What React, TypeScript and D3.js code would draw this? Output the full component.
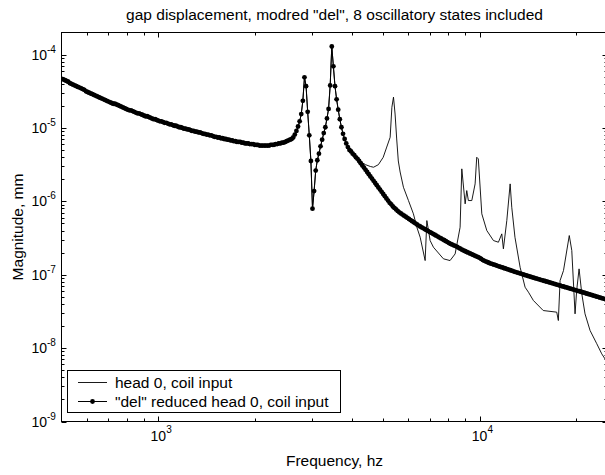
import React from "react";
import * as d3 from "d3";

const W = 605;
const H = 475;
const PLOT = { left: 61.5, right: 607.5, top: 32.5, bottom: 421.5 };

const xDomain: [number, number] = [500, 25000];
const yDomain: [number, number] = [1e-9, 2e-4];
const xMajorExponents = [3, 4];
const yMajorExponents = [-9, -8, -7, -6, -5, -4];

const titleText = 'gap displacement, modred "del", 8 oscillatory states included';
const xLabelText = "Frequency, hz";
const yLabelText = "Magnitude, mm";
const legendLabels = ["head 0, coil input", '"del" reduced head 0, coil input'];

// reduced model: log-spaced frequency grid (log10 Hz), log10 magnitude
const reducedLogHz = d3.range(341).map((i) => 2.7 + 0.005 * i);
const reducedLogMag = [
  -4.33,-4.34,-4.35,-4.36,-4.37,-4.39,-4.40,-4.41,-4.42,-4.43,-4.44,-4.45,-4.46,-4.47,-4.48,-4.50,-4.51,-4.52,-4.53,-4.54,
  -4.55,-4.56,-4.57,-4.58,-4.59,-4.60,-4.61,-4.62,-4.63,-4.64,-4.65,-4.66,-4.67,-4.67,-4.68,-4.69,-4.70,-4.71,-4.72,-4.73,
  -4.74,-4.75,-4.76,-4.76,-4.77,-4.78,-4.79,-4.80,-4.80,-4.81,-4.82,-4.83,-4.84,-4.84,-4.85,-4.86,-4.87,-4.88,-4.88,-4.89,
  -4.90,-4.91,-4.91,-4.92,-4.93,-4.93,-4.94,-4.95,-4.95,-4.96,-4.97,-4.97,-4.98,-4.99,-4.99,-5.00,-5.01,-5.01,-5.02,-5.02,
  -5.03,-5.04,-5.04,-5.05,-5.05,-5.06,-5.06,-5.07,-5.08,-5.08,-5.09,-5.09,-5.10,-5.10,-5.11,-5.12,-5.12,-5.13,-5.13,-5.14,
  -5.14,-5.15,-5.15,-5.16,-5.16,-5.17,-5.17,-5.18,-5.18,-5.19,-5.19,-5.19,-5.20,-5.20,-5.21,-5.21,-5.21,-5.22,-5.22,-5.22,
  -5.23,-5.23,-5.23,-5.24,-5.24,-5.24,-5.24,-5.24,-5.24,-5.24,-5.23,-5.23,-5.23,-5.22,-5.22,-5.21,-5.21,-5.20,-5.20,-5.19,
  -5.18,-5.17,-5.16,-5.15,-5.13,-5.09,-5.04,-4.98,-4.91,-4.81,-4.63,-4.31,-4.43,-4.78,-5.10,-5.45,-6.10,-5.86,-5.58,-5.44,
  -5.35,-5.25,-5.16,-5.07,-4.99,-4.87,-4.74,-4.42,-3.89,-4.16,-4.43,-4.61,-4.75,-4.88,-4.99,-5.08,-5.15,-5.21,-5.26,-5.30,
  -5.32,-5.35,-5.37,-5.40,-5.42,-5.45,-5.48,-5.51,-5.54,-5.57,-5.60,-5.63,-5.66,-5.69,-5.72,-5.75,-5.78,-5.81,-5.84,-5.87,
  -5.90,-5.93,-5.96,-5.99,-6.02,-6.04,-6.07,-6.09,-6.11,-6.13,-6.15,-6.165,-6.18,-6.195,-6.21,-6.225,-6.24,-6.255,-6.27,-6.285,
  -6.30,-6.315,-6.33,-6.343,-6.355,-6.368,-6.38,-6.393,-6.405,-6.418,-6.43,-6.443,-6.455,-6.468,-6.48,-6.493,-6.505,-6.518,-6.53,-6.543,
  -6.555,-6.568,-6.58,-6.59,-6.60,-6.61,-6.62,-6.633,-6.645,-6.658,-6.67,-6.68,-6.69,-6.70,-6.71,-6.72,-6.73,-6.74,-6.75,-6.76,
  -6.77,-6.785,-6.80,-6.81,-6.82,-6.83,-6.84,-6.848,-6.855,-6.863,-6.87,-6.878,-6.885,-6.893,-6.90,-6.908,-6.915,-6.923,-6.93,-6.938,
  -6.945,-6.953,-6.96,-6.967,-6.974,-6.981,-6.988,-6.995,-7.002,-7.009,-7.016,-7.023,-7.03,-7.037,-7.043,-7.05,-7.056,-7.063,-7.069,-7.076,
  -7.082,-7.089,-7.095,-7.102,-7.108,-7.115,-7.121,-7.128,-7.134,-7.141,-7.147,-7.154,-7.16,-7.167,-7.173,-7.18,-7.186,-7.193,-7.199,-7.206,
  -7.212,-7.219,-7.225,-7.232,-7.239,-7.245,-7.252,-7.259,-7.265,-7.272,-7.279,-7.285,-7.292,-7.299,-7.305,-7.312,-7.319,-7.325,-7.332,-7.339,
  -7.345,
];

// full model: identical to the reduced model below ~4 kHz, then its own points (log10 Hz, log10 mag)
const fullSplitLogHz = 3.605;
const fullHiLogHz = [
  3.61, 3.62, 3.63, 3.645, 3.66, 3.67, 3.685, 3.70, 3.711, 3.7216,
  3.727, 3.732, 3.737, 3.742, 3.747, 3.7527, 3.763, 3.7786, 3.794, 3.8047,
  3.815, 3.8305, 3.8358, 3.846, 3.8563, 3.8874, 3.908, 3.9238, 3.9393, 3.9446,
  3.955, 3.96, 3.965, 3.9757, 3.986, 3.991, 3.996, 4.0068, 4.0224, 4.043,
  4.0585, 4.069, 4.074, 4.0846, 4.095, 4.1, 4.11, 4.126, 4.1415, 4.152,
  4.1673, 4.198, 4.24, 4.245, 4.2504, 4.261, 4.279, 4.2868, 4.297, 4.302,
  4.3095, 4.318, 4.328, 4.3437, 4.3645, 4.38, 4.39, 4.4,
];
const fullHiLogMag = [
  -5.37, -5.42, -5.46, -5.5, -5.525, -5.535, -5.5, -5.4, -5.26, -5.127,
  -4.718, -4.58, -4.81, -5.15, -5.45, -5.6, -5.808, -5.989, -6.17, -6.353,
  -6.489, -6.807, -6.262, -6.534, -6.625, -6.783, -6.807, -6.716, -6.353, -5.557,
  -6.034, -5.853, -5.989, -5.989, -5.762, -5.399, -5.421, -6.17, -6.398, -6.534,
  -6.557, -6.443, -6.647, -6.262, -5.762, -6.08, -6.489, -6.898, -7.17, -7.238,
  -7.351, -7.488, -7.51, -7.624, -7.079, -6.943, -6.466, -6.67, -7.533, -7.215,
  -6.92, -7.26, -7.533, -7.76, -7.94, -8.078, -8.146, -8.21,
];

const FONT = "'Liberation Sans', Arial, Helvetica, sans-serif";

export default function App() {
  const x = d3.scaleLog().domain(xDomain).range([PLOT.left, PLOT.right]);
  const y = d3.scaleLog().domain(yDomain).range([PLOT.bottom, PLOT.top]);

  const n = Math.min(reducedLogHz.length, reducedLogMag.length);
  const reduced: [number, number][] = d3.range(n).map((i) => [10 ** reducedLogHz[i], 10 ** reducedLogMag[i]]);
  const full: [number, number][] = [
    ...reduced.filter((d) => Math.log10(d[0]) <= fullSplitLogHz + 1e-9),
    ...fullHiLogHz.map((u, i) => [10 ** u, 10 ** fullHiLogMag[i]] as [number, number]),
  ];

  const line = d3
    .line<[number, number]>()
    .x((d) => x(d[0]))
    .y((d) => y(d[1]));

  const xMinor: number[] = [];
  for (let e = 2; e <= 4; e++) for (let k = 2; k <= 9; k++) {
    const v = k * 10 ** e;
    if (v > xDomain[0] && v < xDomain[1]) xMinor.push(v);
  }
  const yMinor: number[] = [];
  for (let e = -9; e <= -4; e++) for (let k = 2; k <= 9; k++) {
    const v = k * 10 ** e;
    if (v > yDomain[0] && v < yDomain[1]) yMinor.push(v);
  }
  const MAJ = 5;
  const MIN = 3;

  const tickLines: JSX.Element[] = [];
  xMajorExponents.forEach((e) => {
    const px = Math.round(x(10 ** e)) + 0.5;
    tickLines.push(<line key={"xb" + e} x1={px} x2={px} y1={PLOT.bottom} y2={PLOT.bottom - MAJ} />);
    tickLines.push(<line key={"xt" + e} x1={px} x2={px} y1={PLOT.top} y2={PLOT.top + MAJ} />);
  });
  xMinor.forEach((v, i) => {
    const px = Math.round(x(v)) + 0.5;
    tickLines.push(<line key={"xmb" + i} x1={px} x2={px} y1={PLOT.bottom} y2={PLOT.bottom - MIN} />);
    tickLines.push(<line key={"xmt" + i} x1={px} x2={px} y1={PLOT.top} y2={PLOT.top + MIN} />);
  });
  yMajorExponents.forEach((e) => {
    const py = Math.round(y(10 ** e)) + 0.5;
    tickLines.push(<line key={"yl" + e} x1={PLOT.left} x2={PLOT.left + MAJ} y1={py} y2={py} />);
    tickLines.push(<line key={"yr" + e} x1={PLOT.right} x2={PLOT.right - MAJ} y1={py} y2={py} />);
  });
  yMinor.forEach((v, i) => {
    const py = Math.round(y(v)) + 0.5;
    tickLines.push(<line key={"yml" + i} x1={PLOT.left} x2={PLOT.left + MIN} y1={py} y2={py} />);
    tickLines.push(<line key={"ymr" + i} x1={PLOT.right} x2={PLOT.right - MIN} y1={py} y2={py} />);
  });

  const tickFont = 14;
  const supFont = 10;
  const labelFont = 15.5;

  return (
    <svg
      width={W}
      height={H}
      viewBox={`0 0 ${W} ${H}`}
      style={{ position: "absolute", left: 0, top: 0, display: "block", background: "#fff" }}
      fontFamily={FONT}
    >
      <rect x={0} y={0} width={W} height={H} fill="#fff" />
      <defs>
        <clipPath id="plotclip">
          <rect x={PLOT.left} y={PLOT.top} width={PLOT.right - PLOT.left} height={PLOT.bottom - PLOT.top} />
        </clipPath>
      </defs>

      <g clipPath="url(#plotclip)">
        <path d={line(full) || ""} fill="none" stroke="#000" strokeWidth={0.9} />
        <path d={line(reduced) || ""} fill="none" stroke="#000" strokeWidth={1} />
        {reduced.map((d, i) => (
          <circle key={i} cx={x(d[0])} cy={y(d[1])} r={2.4} fill="#000" />
        ))}
      </g>

      <g stroke="#000" strokeWidth={1} fill="none">
        <rect x={PLOT.left} y={PLOT.top} width={PLOT.right - PLOT.left} height={PLOT.bottom - PLOT.top} />
        {tickLines}
      </g>

      {yMajorExponents.map((e) => {
        const py = y(10 ** e);
        return (
          <g key={"ylab" + e}>
            <text x={47} y={py + 5} fontSize={tickFont} textAnchor="end" fill="#000">10</text>
            <text x={47} y={py - 2} fontSize={supFont} textAnchor="start" fill="#000">{String(e)}</text>
          </g>
        );
      })}

      {xMajorExponents.map((e) => {
        const px = x(10 ** e);
        return (
          <g key={"xlab" + e}>
            <text x={px} y={441} fontSize={tickFont} textAnchor="middle" fill="#000">10</text>
            <text x={px + 8} y={433} fontSize={supFont} textAnchor="start" fill="#000">{String(e)}</text>
          </g>
        );
      })}

      <text x={(PLOT.left + PLOT.right) / 2} y={19.5} fontSize={labelFont} textAnchor="middle" fill="#000">
        {titleText}
      </text>
      <text x={(PLOT.left + PLOT.right) / 2} y={466} fontSize={labelFont} textAnchor="middle" fill="#000">
        {xLabelText}
      </text>
      <text
        transform={`translate(23, ${(PLOT.top + PLOT.bottom) / 2}) rotate(-90)`}
        fontSize={labelFont}
        textAnchor="middle"
        fill="#000"
      >
        {yLabelText}
      </text>

      <g>
        <rect x={67.5} y={370.5} width={273} height={42} fill="#fff" stroke="#000" strokeWidth={1} />
        <line x1={78} x2={107} y1={382.5} y2={382.5} stroke="#000" strokeWidth={0.9} />
        <line x1={78} x2={107} y1={401.5} y2={401.5} stroke="#000" strokeWidth={1} />
        <circle cx={92.5} cy={401.5} r={2.4} fill="#000" />
        <text x={115} y={388} fontSize={labelFont} fill="#000">{legendLabels[0]}</text>
        <text x={115} y={407} fontSize={labelFont} fill="#000">{legendLabels[1]}</text>
      </g>
    </svg>
  );
}
